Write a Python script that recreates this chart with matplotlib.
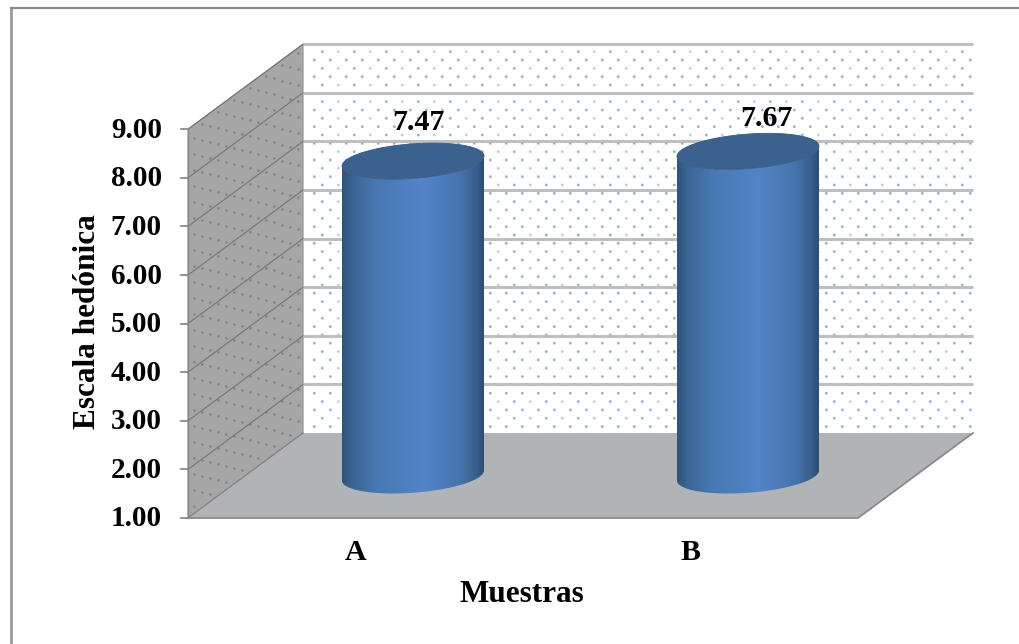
#!/usr/bin/env python3
"""
Escala hedonica por muestra - cilindros 3D sobre caja oblicua
"""

import numpy as np
import matplotlib
matplotlib.use("Agg")
import matplotlib.pyplot as plt
from matplotlib.colors import LinearSegmentedColormap
from matplotlib.patches import Polygon

muestras = ["A", "B"]
valores = [7.47, 7.67]
etiquetas = ["7.47", "7.67"]
ticks_y = [1, 2, 3, 4, 5, 6, 7, 8, 9]

# caja en pixeles de la figura
X0, X1 = 188, 858
Y_BASE = 518
PX_POR_UNIDAD = 48.6
DX, DY = 115, -85
R_X, R_DEPTH = 71, 18
SESGO = 20

plt.rcParams['font.family'] = ['Liberation Serif', 'DejaVu Serif']


def proj(frac, val, depth):
    """Pasa (fraccion de x, valor, profundidad 0-1) a pixeles"""
    x = X0 + frac * (X1 - X0) + depth * DX
    y = Y_BASE - (val - 1) * PX_POR_UNIDAD + depth * DY
    return x, y


fig = plt.figure(figsize=(10.2, 6.44), dpi=100, facecolor='white')
ax = fig.add_axes([0, 0, 1, 1])

# paredes y suelo
back = [proj(0, 1, 1), proj(1, 1, 1), proj(1, 9, 1), proj(0, 9, 1)]
side = [proj(0, 1, 0), proj(0, 1, 1), proj(0, 9, 1), proj(0, 9, 0)]
floor = [proj(0, 1, 0), proj(1, 1, 0), proj(1, 1, 1), proj(0, 1, 1)]

ax.add_patch(Polygon(back, closed=True, fc='white', ec='none', zorder=1))
ax.add_patch(Polygon(side, closed=True, fc='#a6a6a6', ec='#8e8e8e', lw=0.8, zorder=1))

# punteado de la pared del fondo
xs, ys, cs = [], [], []
for i, yy in enumerate(np.arange(51.7, 433, 8.33)):
    inicio = 322.3 if i % 2 == 0 else 314.3
    for j, xx in enumerate(np.arange(inicio, 972, 16)):
        xs.append(xx)
        ys.append(yy)
        cs.append('#94b3db' if i % 2 == 1 or j % 2 == 0 else '#bdd0e9')
ax.scatter(xs, ys, s=4.2, c=cs, linewidths=0, zorder=2)

# punteado de la pared lateral
xs, ys = [], []
pendiente = DY / DX
for i, uu in enumerate(np.arange(6, DX, 8)):
    for vv in np.arange(8 + (i % 2) * 8, 388, 16):
        xs.append(X0 + uu)
        ys.append(Y_BASE - vv + pendiente * uu)
ax.scatter(xs, ys, s=3.6, c='#76849a', linewidths=0, zorder=2)

# rejilla
for v in ticks_y[1:]:
    x_a, y_a = proj(0, v, 1)
    x_b, y_b = proj(1, v, 1)
    ax.plot([x_a, x_b], [y_a, y_b], color='#bfbfbf', lw=2.2, solid_capstyle='butt', zorder=3)
    x_c, y_c = proj(0, v, 0)
    ax.plot([x_c, x_a], [y_c, y_a], color='#747474', lw=0.8, zorder=3)

ax.add_patch(Polygon(floor, closed=True, fc='#b1b3b6', ec='none', zorder=4))
ax.plot([floor[0][0], floor[1][0], floor[2][0]], [floor[0][1], floor[1][1], floor[2][1]],
        color='#8a8a8a', lw=1.3, zorder=4)
ax.plot([floor[0][0], floor[3][0]], [floor[0][1], floor[3][1]], color='#7f7f7f', lw=0.8, zorder=4)

# eje y
for v in ticks_y:
    x_t, y_t = proj(0, v, 0)
    ax.plot([x_t - 7, x_t], [y_t, y_t], color='#7f7f7f', lw=1.2, zorder=5)
    ax.text(162, y_t + 1, f"{v:.2f}", ha='right', va='center', fontsize=21, fontweight='bold', color='black')
ax.plot([X0, X0], [proj(0, 1, 0)[1], proj(0, 9, 0)[1]], color='#8a8a8a', lw=1.0, zorder=5)

# cilindros
degradado = LinearSegmentedColormap.from_list('cil', [
    (0.0, '#2f5279'), (0.07, '#3a6595'), (0.25, '#4879b3'), (0.58, '#5384c8'),
    (0.84, '#4673ab'), (0.95, '#385e8b'), (1.0, '#2d4d73')])

ax_r = np.sqrt(R_X ** 2 - SESGO ** 2)
t0 = np.arctan2(SESGO, ax_r)
n = len(muestras)

for i, val in enumerate(valores):
    cx, cy_base = proj((i + 0.5) / n, 1, 0.5)
    cx_top, cy_top = proj((i + 0.5) / n, val, 0.5)

    t = np.linspace(t0 + np.pi, t0 + 2 * np.pi, 80)
    arco_x = ax_r * np.cos(t) + SESGO * np.sin(t)
    arco_y = -R_DEPTH * np.sin(t)
    cuerpo = np.r_[np.c_[cx + arco_x, cy_base + arco_y],
                   np.c_[cx + arco_x, cy_top + arco_y][::-1]]
    silueta = Polygon(cuerpo, closed=True, fc='none', ec='none', transform=ax.transData)
    ax.add_patch(silueta)
    im = ax.imshow(np.linspace(0, 1, 256).reshape(1, -1), cmap=degradado, aspect='auto',
                   extent=[cx - R_X, cx + R_X, cy_base + R_DEPTH + 1, cy_top - R_DEPTH],
                   zorder=6, interpolation='bilinear')
    im.set_clip_path(silueta)

    t = np.linspace(0, 2 * np.pi, 160)
    tapa = np.c_[cx_top + ax_r * np.cos(t) + SESGO * np.sin(t), cy_top - R_DEPTH * np.sin(t)]
    ax.add_patch(Polygon(tapa, closed=True, fc='#3b618f', ec='#39597f', lw=0.6, zorder=7))

# etiquetas de valor, categorias y titulos
ax.text(418, 122, etiquetas[0], ha='center', va='center', fontsize=21.5, fontweight='bold', color='black', zorder=8)
ax.text(766, 118, etiquetas[1], ha='center', va='center', fontsize=21.5, fontweight='bold', color='black', zorder=8)
for i, m in enumerate(muestras):
    x_c, _ = proj((i + 0.5) / n, 1, 0)
    ax.text(x_c, 552, m, ha='center', va='center', fontsize=21.5, fontweight='bold', color='black')
ax.text(522, 595, "Muestras", ha='center', va='center', fontsize=22.5, fontweight='bold', color='black')
ax.text(88, 322, "Escala hedónica", ha='center', va='center', rotation=90, fontsize=22.5,
        fontweight='bold', color='black')

# marco superior e izquierdo
ax.plot([11, 11], [8, 644], color='#9a9a9a', lw=2.0, solid_capstyle='butt', zorder=9)
ax.plot([10, 1020], [8, 8], color='#8c8c8c', lw=1.6, solid_capstyle='butt', zorder=9)

ax.set_xlim(0, 1020)
ax.set_ylim(644, 0)
ax.axis('off')

plt.savefig('out.png', dpi=100)
plt.close()
